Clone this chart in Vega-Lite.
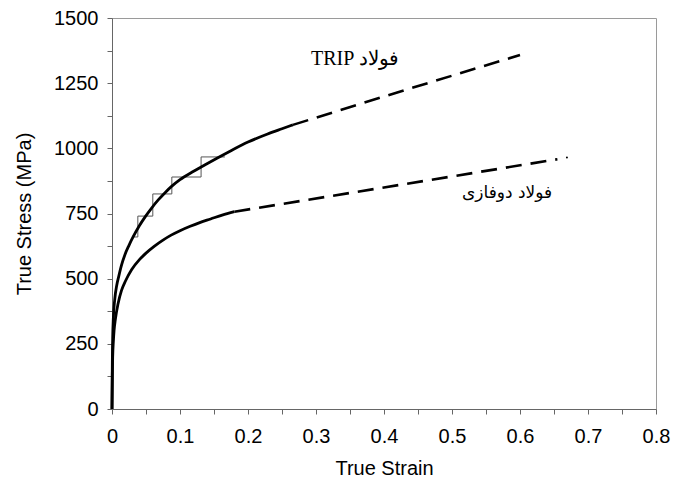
{
  "$schema": "https://vega.github.io/schema/vega-lite/v6.json",
  "width": 544,
  "height": 391,
  "autosize": {"type": "none"},
  "padding": {"left": 112, "top": 18, "right": 22, "bottom": 73},
  "background": "white",
  "config": {"view": {"stroke": "#9a9a9a", "strokeWidth": 1}, "font": "Liberation Sans"},
  "datasets": {
    "measured": [
      {"series": "TRIP", "strain": 0, "stress": 0},
      {"series": "TRIP", "strain": 0.0005, "stress": 180},
      {"series": "TRIP", "strain": 0.001, "stress": 270},
      {"series": "TRIP", "strain": 0.002, "stress": 350},
      {"series": "TRIP", "strain": 0.004, "stress": 420},
      {"series": "TRIP", "strain": 0.007, "stress": 475},
      {"series": "TRIP", "strain": 0.01, "stress": 510},
      {"series": "TRIP", "strain": 0.014, "stress": 552},
      {"series": "TRIP", "strain": 0.019, "stress": 592},
      {"series": "TRIP", "strain": 0.025, "stress": 628},
      {"series": "TRIP", "strain": 0.031, "stress": 660},
      {"series": "TRIP", "strain": 0.04, "stress": 702},
      {"series": "TRIP", "strain": 0.049, "stress": 738},
      {"series": "TRIP", "strain": 0.058, "stress": 770},
      {"series": "TRIP", "strain": 0.068, "stress": 802},
      {"series": "TRIP", "strain": 0.078, "stress": 830},
      {"series": "TRIP", "strain": 0.088, "stress": 855},
      {"series": "TRIP", "strain": 0.1, "stress": 880},
      {"series": "TRIP", "strain": 0.118, "stress": 909},
      {"series": "TRIP", "strain": 0.137, "stress": 937},
      {"series": "TRIP", "strain": 0.155, "stress": 963},
      {"series": "TRIP", "strain": 0.175, "stress": 991},
      {"series": "TRIP", "strain": 0.2, "stress": 1024},
      {"series": "TRIP", "strain": 0.228, "stress": 1054},
      {"series": "TRIP", "strain": 0.25, "stress": 1075},
      {"series": "TRIP", "strain": 0.266, "stress": 1090},
      {"series": "DP", "strain": 0, "stress": 0},
      {"series": "DP", "strain": 0.0005, "stress": 130},
      {"series": "DP", "strain": 0.001, "stress": 200},
      {"series": "DP", "strain": 0.002, "stress": 260},
      {"series": "DP", "strain": 0.003, "stress": 300},
      {"series": "DP", "strain": 0.005, "stress": 345},
      {"series": "DP", "strain": 0.009, "stress": 405},
      {"series": "DP", "strain": 0.014, "stress": 455},
      {"series": "DP", "strain": 0.02, "stress": 492},
      {"series": "DP", "strain": 0.029, "stress": 535},
      {"series": "DP", "strain": 0.04, "stress": 572},
      {"series": "DP", "strain": 0.05, "stress": 598},
      {"series": "DP", "strain": 0.062, "stress": 624},
      {"series": "DP", "strain": 0.075, "stress": 648},
      {"series": "DP", "strain": 0.087, "stress": 667},
      {"series": "DP", "strain": 0.1, "stress": 684},
      {"series": "DP", "strain": 0.115, "stress": 701},
      {"series": "DP", "strain": 0.13, "stress": 716},
      {"series": "DP", "strain": 0.145, "stress": 729},
      {"series": "DP", "strain": 0.162, "stress": 744},
      {"series": "DP", "strain": 0.18, "stress": 757}
    ],
    "extrapolated": [
      {"series": "TRIP", "strain": 0.266, "stress": 1090},
      {"series": "TRIP", "strain": 0.43, "stress": 1223},
      {"series": "TRIP", "strain": 0.6, "stress": 1358},
      {"series": "DP", "strain": 0.18, "stress": 757},
      {"series": "DP", "strain": 0.4, "stress": 850},
      {"series": "DP", "strain": 0.655, "stress": 958}
    ],
    "steps": [
      {"strain": 0.031, "stress": 660},
      {"strain": 0.038, "stress": 740},
      {"strain": 0.06, "stress": 825},
      {"strain": 0.088, "stress": 890},
      {"strain": 0.131, "stress": 967},
      {"strain": 0.166, "stress": 967}
    ],
    "enddot": [
      {"strain": 0.669, "stress": 965}
    ],
    "labelTrip": [
      {"strain": 0.357, "stress": 1342, "label": "TRIP فولاد"}
    ],
    "labelDp": [
      {"strain": 0.581, "stress": 829, "label": "فولاد دوفازی"}
    ]
  },
  "encoding": {
    "x": {
      "field": "strain",
      "type": "quantitative",
      "title": "True Strain",
      "scale": {"domain": [0, 0.8], "nice": false},
      "axis": {
        "values": [0, 0.05, 0.1, 0.15, 0.2, 0.25, 0.3, 0.35, 0.4, 0.45, 0.5, 0.55, 0.6, 0.65, 0.7, 0.75, 0.8],
        "format": "~g",
        "labelExpr": "round(datum.value*100) % 10 == 0 ? datum.label : ''",
        "grid": false,
        "tickSize": 5,
        "tickColor": "#666666",
        "domainColor": "#666666",
        "labelFont": "Liberation Sans",
        "labelFontSize": 20,
        "labelColor": "#000000",
        "labelPadding": 12,
        "labelOverlap": false,
        "labelFlush": false,
        "titleFont": "Liberation Sans",
        "titleFontSize": 20,
        "titleFontWeight": "normal",
        "titleColor": "#000000",
        "titleY": 59,
        "titleBaseline": "middle"
      }
    },
    "y": {
      "field": "stress",
      "type": "quantitative",
      "title": "True Stress (MPa)",
      "scale": {"domain": [0, 1500], "nice": false},
      "axis": {
        "values": [0, 125, 250, 375, 500, 625, 750, 875, 1000, 1125, 1250, 1375, 1500],
        "format": "d",
        "labelExpr": "datum.value % 250 == 0 ? datum.label : ''",
        "grid": false,
        "tickSize": 5,
        "tickColor": "#666666",
        "domainColor": "#666666",
        "labelFont": "Liberation Sans",
        "labelFontSize": 20,
        "labelColor": "#000000",
        "labelPadding": 9,
        "labelOverlap": false,
        "labelFlush": false,
        "titleFont": "Liberation Sans",
        "titleFontSize": 20,
        "titleFontWeight": "normal",
        "titleColor": "#000000",
        "titleX": -88,
        "titleY": 195.5,
        "titleBaseline": "middle"
      }
    }
  },
  "layer": [
    {
      "data": {"name": "steps"},
      "mark": {"type": "line", "interpolate": "step-after", "stroke": "#555555", "strokeWidth": 1}
    },
    {
      "data": {"name": "measured"},
      "mark": {"type": "line", "interpolate": "monotone", "stroke": "#000000", "strokeWidth": 2.8},
      "encoding": {"detail": {"field": "series"}}
    },
    {
      "data": {"name": "extrapolated"},
      "mark": {"type": "line", "stroke": "#000000", "strokeWidth": 2.6, "strokeDash": [16, 9]},
      "encoding": {"detail": {"field": "series"}}
    },
    {
      "data": {"name": "enddot"},
      "mark": {"type": "point", "filled": true, "color": "#000000", "size": 4, "opacity": 1}
    },
    {
      "data": {"name": "labelTrip"},
      "mark": {"type": "text", "font": "Liberation Serif", "fontSize": 20, "color": "#000000", "align": "center", "baseline": "middle"},
      "encoding": {"text": {"field": "label"}}
    },
    {
      "data": {"name": "labelDp"},
      "mark": {"type": "text", "font": "DejaVu Sans", "fontSize": 17, "color": "#000000", "align": "center", "baseline": "middle"},
      "encoding": {"text": {"field": "label"}}
    }
  ]
}
